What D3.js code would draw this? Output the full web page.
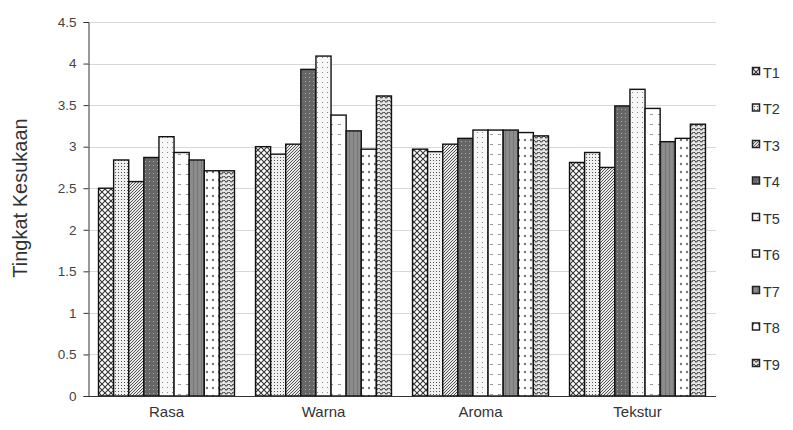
<!DOCTYPE html>
<html><head><meta charset="utf-8">
<script src="https://cdn.jsdelivr.net/npm/d3@7"></script>
<style>body{margin:0;background:#fff}svg{display:block}text{font-family:"Liberation Sans",Arial,sans-serif}</style>
</head><body><svg id="c" width="793" height="430"></svg>
<script>
const categories = ["Rasa","Warna","Aroma","Tekstur"];
const seriesNames = ["T1","T2","T3","T4","T5","T6","T7","T8","T9"];
const T1 = [2.50, 3.00, 2.97, 2.81];
const T2 = [2.84, 2.91, 2.94, 2.93];
const T3 = [2.58, 3.03, 3.03, 2.75];
const T4 = [2.87, 3.93, 3.10, 3.49];
const T5 = [3.12, 4.09, 3.20, 3.69];
const T6 = [2.93, 3.38, 3.20, 3.46];
const T7 = [2.84, 3.19, 3.20, 3.06];
const T8 = [2.71, 2.97, 3.17, 3.10];
const T9 = [2.71, 3.61, 3.13, 3.27];
const seriesValues = [T1,T2,T3,T4,T5,T6,T7,T8,T9];
const yTicks = [0,0.5,1,1.5,2,2.5,3,3.5,4,4.5];
const yTitle = "Tingkat Kesukaan";

const svg = d3.select("#c");
const defs = svg.append("defs");
function pat(id, w, h, bg, draw){
  const p = defs.append("pattern").attr("id",id).attr("patternUnits","userSpaceOnUse").attr("width",w).attr("height",h);
  p.append("rect").attr("width",w).attr("height",h).attr("fill",bg);
  draw(p);
}
pat("p0",6,6,"#fff",p=>{p.append("path").attr("d","M0,0L6,6M6,0L0,6").attr("stroke","#333").attr("stroke-width",1.1);});
pat("p1",3,3,"#f0f0f0",p=>{p.append("rect").attr("x",1).attr("y",1).attr("width",1).attr("height",1).attr("fill","#555");});
pat("p2",3,3,"#e8e8e8",p=>{p.append("path").attr("d","M0,3L3,0M-1,1L1,-1M2,4L4,2").attr("stroke","#555").attr("stroke-width",1);});
pat("p3",4,4,"#666",p=>{p.append("rect").attr("x",1).attr("y",1).attr("width",1).attr("height",1).attr("fill","#aaa");});
pat("p4",5,5,"#f7f7f7",p=>{p.append("rect").attr("x",2).attr("y",2).attr("width",1).attr("height",1).attr("fill","#888");});
pat("p5",8,10,"#fff",p=>{p.append("rect").attr("x",2).attr("y",4).attr("width",3).attr("height",1).attr("fill","#999");});
pat("p6",4,4,"#8c8c8c",p=>{p.append("rect").attr("x",1).attr("y",0).attr("width",1).attr("height",4).attr("fill","#777");});
pat("p7",6,8,"#fff",p=>{p.append("circle").attr("cx",3).attr("cy",4).attr("r",1.2).attr("fill","#777");});
pat("p8",5,4,"#e6e6e6",p=>{p.append("path").attr("d","M0,1Q1.25,3 2.5,1T5,1").attr("fill","none").attr("stroke","#444").attr("stroke-width",1.1);});

const x0 = d3.scaleBand().domain(categories).range([88,716]).paddingInner(0.134).paddingOuter(0.067);
const x1 = d3.scaleBand().domain(seriesNames).range([0,x0.bandwidth()]);
const y = d3.scaleLinear().domain([0,4.5]).range([396,22]);

svg.append("g").selectAll("line").data(yTicks.filter(t=>t>0)).join("line")
  .attr("x1",88).attr("x2",716).attr("y1",d=>Math.round(y(d))+0.5).attr("y2",d=>Math.round(y(d))+0.5)
  .attr("stroke","#d8d8d8").attr("stroke-width",1);

const gBars = svg.append("g");
seriesNames.forEach((s,i)=>{
  gBars.append("g").selectAll("rect").data(seriesValues[i]).join("rect")
    .attr("x",(d,j)=>x0(categories[j])+x1(s))
    .attr("y",d=>y(d))
    .attr("width",x1.bandwidth())
    .attr("height",d=>y(0)-y(d))
    .attr("fill",`url(#p${i})`)
    .attr("stroke","#111").attr("stroke-width",1.4);
});

const ya = svg.append("g").attr("transform","translate(88.5,0)")
  .call(d3.axisLeft(y).tickValues(yTicks).tickSize(5).tickPadding(7).tickFormat(d=>String(d)));
ya.select(".domain").attr("stroke","#333");
ya.selectAll(".tick line").attr("stroke","#333");
ya.selectAll("text").attr("font-size",13.5).attr("fill","#444").attr("font-family","Liberation Sans, Arial, sans-serif");

const xa = svg.append("g").attr("transform","translate(0,396.5)")
  .call(d3.axisBottom(x0).tickSize(0).tickPadding(10));
xa.select(".domain").attr("stroke","#333").attr("d","M88,0H716");
xa.selectAll("text").attr("font-size",15).attr("fill","#333").attr("font-family","Liberation Sans, Arial, sans-serif");

svg.append("text").attr("transform","translate(27,198) rotate(-90)").attr("text-anchor","middle")
  .attr("font-size",20).attr("fill","#333").text(yTitle);

const lg = svg.append("g");
seriesNames.forEach((s,i)=>{
  const ly = 72 + i*36.5;
  lg.append("rect").attr("x",752.5).attr("y",ly-4.5).attr("width",7).attr("height",7)
    .attr("fill",`url(#p${i})`).attr("stroke","#222").attr("stroke-width",1.5);
  lg.append("text").attr("x",763).attr("y",ly+5.5).attr("font-size",14.5).attr("fill","#333").text(s);
});
</script></body></html>
